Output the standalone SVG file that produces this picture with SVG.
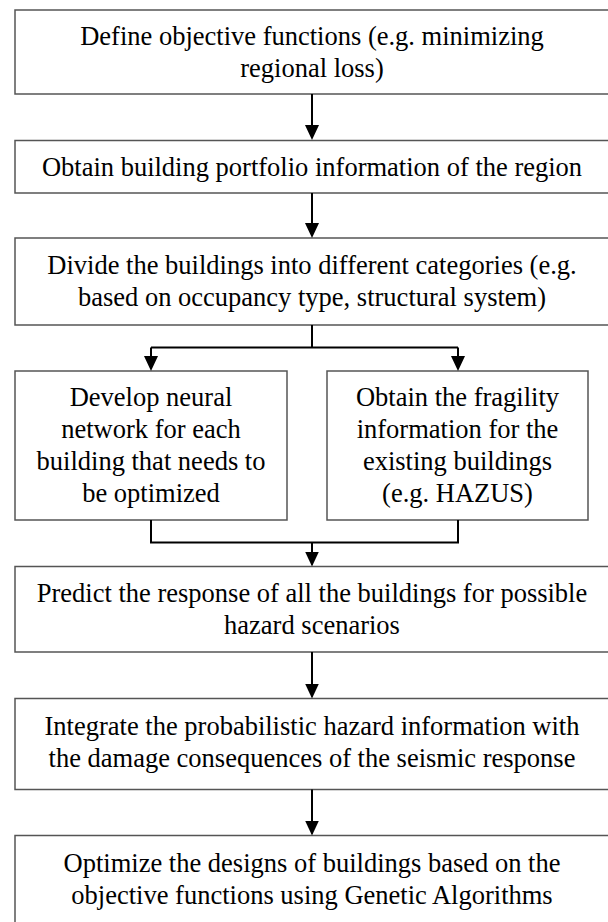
<svg xmlns="http://www.w3.org/2000/svg" width="608" height="922" viewBox="0 0 608 922">
  <style>
    .box { fill: #ffffff; stroke: #555555; stroke-width: 1.5; }
    .lbl { font-family: 'Liberation Serif', 'DejaVu Serif', serif; font-size: 26.5px; fill: #000000; text-anchor: middle; }
    .conn { fill: none; stroke: #000000; stroke-width: 2; }
  </style>
  <defs>
    <marker id="arrow" viewBox="0 0 15 14" refX="13" refY="7" markerWidth="15" markerHeight="14" markerUnits="userSpaceOnUse" orient="auto">
      <path d="M0,0 L15,7 L0,14 Z" fill="#000000"/>
    </marker>
  </defs>
  <rect x="0" y="0" width="608" height="922" fill="#ffffff"/>

  <g font-family="Liberation Serif, DejaVu Serif, serif">
  <g id="n1">
    <rect class="box" x="15" y="10" width="600" height="84"/>
    <text class="lbl" x="312" y="45">Define objective functions (e.g. minimizing</text>
    <text class="lbl" x="312" y="77">regional loss)</text>
  </g>
  <g id="n2">
    <rect class="box" x="15" y="140.5" width="600" height="52.5"/>
    <text class="lbl" x="312" y="175.5">Obtain building portfolio information of the region</text>
  </g>
  <g id="n3">
    <rect class="box" x="15" y="238" width="600" height="87"/>
    <text class="lbl" x="312" y="274">Divide the buildings into different categories (e.g.</text>
    <text class="lbl" x="312" y="306">based on occupancy type, structural system)</text>
  </g>
  <g id="n4">
    <rect class="box" x="15" y="371" width="272" height="149"/>
    <text class="lbl" x="151" y="405.5">Develop neural</text>
    <text class="lbl" x="151" y="437.5">network for each</text>
    <text class="lbl" x="151" y="469.5">building that needs to</text>
    <text class="lbl" x="151" y="501.5">be optimized</text>
  </g>
  <g id="n5">
    <rect class="box" x="327" y="371" width="261" height="149"/>
    <text class="lbl" x="457.5" y="405.5">Obtain the fragility</text>
    <text class="lbl" x="457.5" y="437.5">information for the</text>
    <text class="lbl" x="457.5" y="469.5">existing buildings</text>
    <text class="lbl" x="457.5" y="501.5">(e.g. HAZUS)</text>
  </g>
  <g id="n6">
    <rect class="box" x="15" y="566.5" width="600" height="85.5"/>
    <text class="lbl" x="312" y="602">Predict the response of all the buildings for possible</text>
    <text class="lbl" x="312" y="634">hazard scenarios</text>
  </g>
  <g id="n7">
    <rect class="box" x="15" y="698.5" width="600" height="91"/>
    <text class="lbl" x="312" y="735">Integrate the probabilistic hazard information with</text>
    <text class="lbl" x="312" y="767">the damage consequences of the seismic response</text>
  </g>
  <g id="n8">
    <rect class="box" x="15" y="835.5" width="600" height="100"/>
    <text class="lbl" x="312" y="872">Optimize the designs of buildings based on the</text>
    <text class="lbl" x="312" y="904">objective functions using Genetic Algorithms</text>
  </g>
  </g>

  <g id="connectors">
    <path class="conn" d="M312,94 L312,138" marker-end="url(#arrow)"/>
    <path class="conn" d="M312,193 L312,236" marker-end="url(#arrow)"/>
    <path class="conn" d="M312,325 L312,347.5"/>
    <path class="conn" d="M151,347.5 L458,347.5"/>
    <path class="conn" d="M151,347.5 L151,369" marker-end="url(#arrow)"/>
    <path class="conn" d="M458,347.5 L458,369" marker-end="url(#arrow)"/>
    <path class="conn" d="M151,520 L151,542.5 L458,542.5 L458,520"/>
    <path class="conn" d="M312,542.5 L312,564.5" marker-end="url(#arrow)"/>
    <path class="conn" d="M312,652 L312,696.5" marker-end="url(#arrow)"/>
    <path class="conn" d="M312,789.5 L312,833.5" marker-end="url(#arrow)"/>
  </g>
</svg>
